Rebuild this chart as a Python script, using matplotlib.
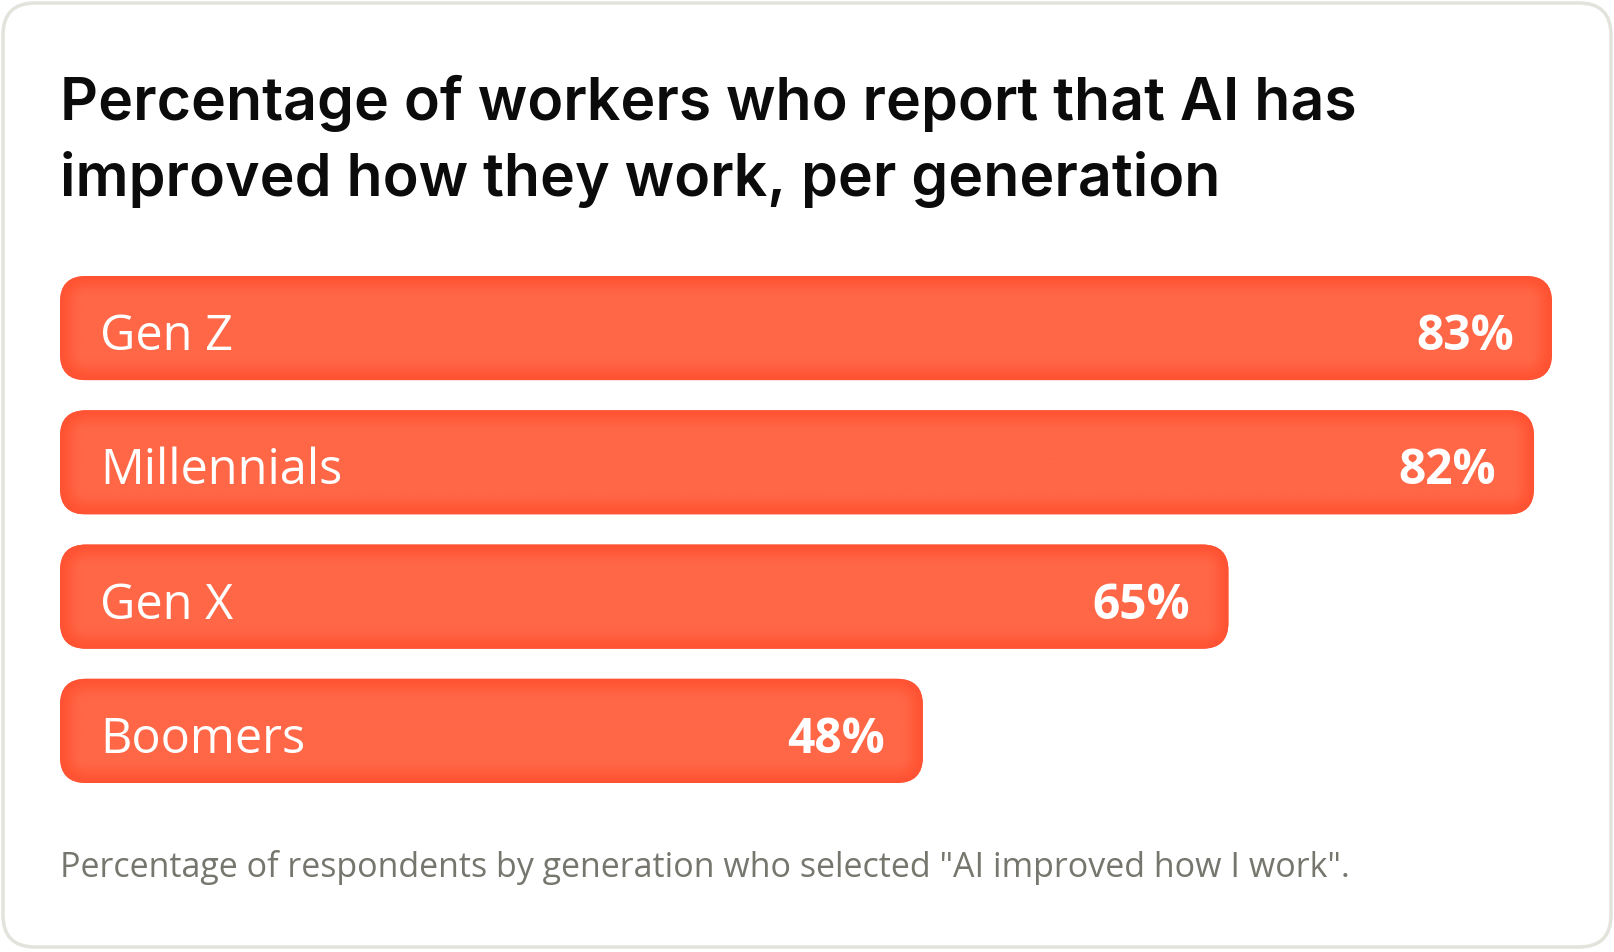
import numpy as np
import matplotlib
matplotlib.use("Agg")
import matplotlib.pyplot as plt
from matplotlib.patches import FancyBboxPatch
from matplotlib.colors import to_rgb

# ---- data ----
categories = ["Gen Z", "Millennials", "Gen X", "Boomers"]
values = [83, 82, 65, 48]
value_labels = ["83%", "82%", "65%", "48%"]
title_lines = ["Percentage of workers who report that AI has",
               "improved how they work, per generation"]
subtitle = 'Percentage of respondents by generation who selected "AI improved how I work".'

W, H = 1614, 952
DPI = 100
fig = plt.figure(figsize=(W / DPI, H / DPI), dpi=DPI)
fig.patch.set_facecolor("white")

# background / card axes in pixel coords
bg = fig.add_axes([0, 0, 1, 1])
bg.set_xlim(0, W)
bg.set_ylim(H, 0)
bg.axis("off")
card = FancyBboxPatch((3, 3), W - 6, H - 8,
                      boxstyle="round,pad=0,rounding_size=32",
                      facecolor="white", edgecolor="#e3e3db", linewidth=2.5)
bg.add_patch(card)

bg.text(60, 120, title_lines[0], fontsize=42.5,
        fontfamily="Inter", fontweight="semibold", color="#0b0b0b", va="baseline", ha="left")
bg.text(60, 196, title_lines[1], fontsize=42.5,
        fontfamily="Inter", fontweight="semibold", color="#0b0b0b", va="baseline", ha="left")
bg.text(60, 877, subtitle, fontsize=24.5, fontfamily="Open Sans",
        color="#76766e", va="baseline", ha="left")

# bar axes
left_px, right_px = 60, 1552
top_px, bot_px = 276, 783
bar_h = 0.776
n = len(categories)
ax = fig.add_axes([left_px / W, 1 - bot_px / H, (right_px - left_px) / W, (bot_px - top_px) / H])
ax.set_xlim(0, max(values))
ax.set_ylim(n - 1 + bar_h / 2, -bar_h / 2)
ax.axis("off")

px_per_x = (right_px - left_px) / max(values)
px_per_y = (bot_px - top_px) / (n - 1 + bar_h)
radius_px = 26

dark = np.array(to_rgb("#ff5333"))
light = np.array(to_rgb("#ff6747"))

for i, (cat, v, lab) in enumerate(zip(categories, values, value_labels)):
    y0 = i - bar_h / 2
    patch = FancyBboxPatch((0, y0), v, bar_h,
                           boxstyle=f"round,pad=0,rounding_size={radius_px / px_per_x}",
                           mutation_aspect=px_per_x / px_per_y,
                           facecolor="#ff6243", edgecolor="none")
    ax.add_patch(patch)
    # inner-glow gradient image
    wpx = int(round(v * px_per_x))
    hpx = int(round(bar_h * px_per_y))
    xx = np.arange(wpx) + 0.5
    yy = np.arange(hpx) + 0.5
    X, Y = np.meshgrid(xx, yy)
    r = radius_px
    qx = np.abs(X - wpx / 2) - (wpx / 2 - r)
    qy = np.abs(Y - hpx / 2) - (hpx / 2 - r)
    outside = np.hypot(np.maximum(qx, 0), np.maximum(qy, 0)) + np.minimum(np.maximum(qx, qy), 0)
    d = r - outside  # distance inside edge
    t = np.clip(d / 22.0, 0, 1)
    t = t * t * (3 - 2 * t)
    img = dark[None, None, :] * (1 - t[..., None]) + light[None, None, :] * t[..., None]
    im = ax.imshow(img, extent=(0, v, y0 + bar_h, y0), aspect="auto",
                   interpolation="bilinear", zorder=2)
    im.set_clip_path(patch)

    yb = i + 22 / px_per_y
    ax.text(40 / px_per_x, yb, cat, fontsize=35, fontfamily="Open Sans",
            color="white", va="baseline", ha="left", zorder=3)
    ax.text(v - 38 / px_per_x, yb, lab, fontsize=34.5, fontfamily="Open Sans",
            fontweight="bold", color="white", va="baseline", ha="right", zorder=3)

fig.savefig("out.png", dpi=DPI, facecolor="white")
